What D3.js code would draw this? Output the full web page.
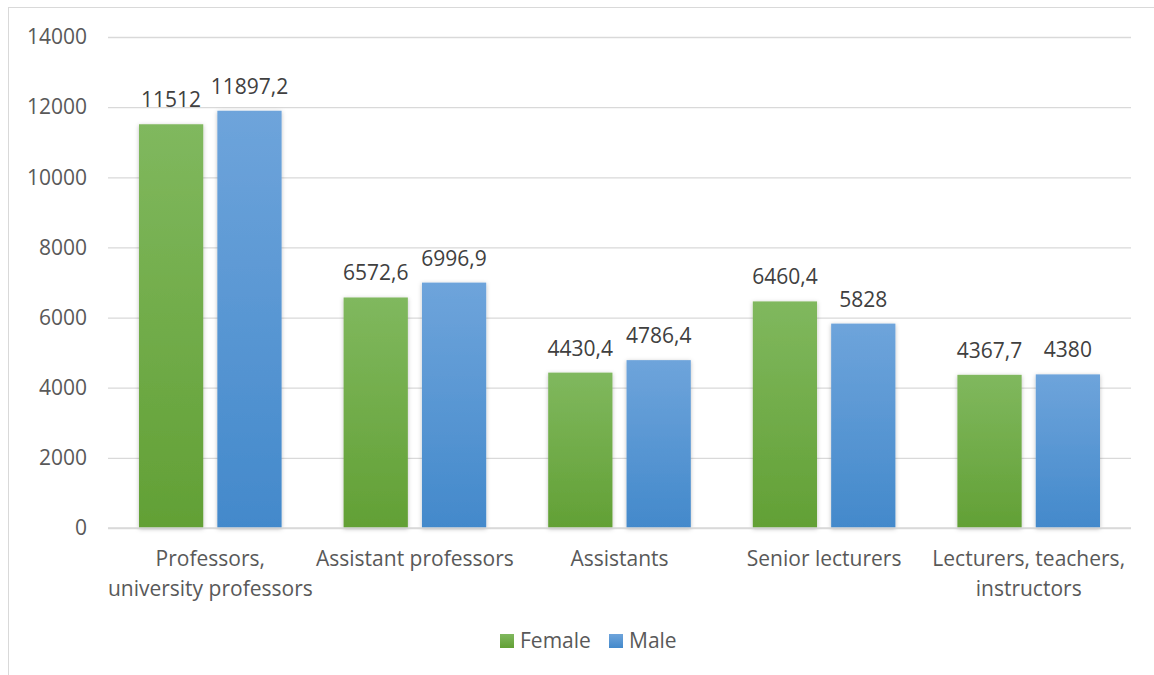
<!DOCTYPE html>
<html>
<head>
<meta charset="utf-8">
<script src="https://cdn.jsdelivr.net/npm/d3@7"></script>
<style>
  body { margin: 0; background: #fff; }
  text { font-family: "Open Sans", "Noto Sans", sans-serif; }
</style>
</head>
<body>
<div id="chart"></div>
<script>
// data
var categories = [
  ["Professors,", "university professors"],
  ["Assistant professors"],
  ["Assistants"],
  ["Senior lecturers"],
  ["Lecturers, teachers,", "instructors"]
];
var female = [11512, 6572.6, 4430.4, 6460.4, 4367.7];
var male = [11897.2, 6996.9, 4786.4, 5828, 4380];
var yTicks = [0, 2000, 4000, 6000, 8000, 10000, 12000, 14000];
var seriesNames = ["Female", "Male"];

var W = 1154, H = 675;
var margin = {top: 37, right: 23, bottom: 147, left: 108};
var width = W - margin.left - margin.right,
    height = H - margin.top - margin.bottom;
var fontSize = "21px";

var svg = d3.select("#chart").append("svg")
  .attr("width", W).attr("height", H);

// gradients + shadow
var defs = svg.append("defs");
var grads = [["gFem", "#80b85e", "#62a035"], ["gMale", "#6ea4db", "#4389cb"]];
grads.forEach(function(g) {
  var lg = defs.append("linearGradient").attr("id", g[0])
    .attr("x1", 0).attr("y1", 0).attr("x2", 0).attr("y2", 1);
  lg.append("stop").attr("offset", "0%").attr("stop-color", g[1]);
  lg.append("stop").attr("offset", "100%").attr("stop-color", g[2]);
});
var f = defs.append("filter").attr("id", "shadow")
  .attr("x", "-20%").attr("y", "-5%").attr("width", "140%").attr("height", "110%");
f.append("feDropShadow").attr("dx", 0).attr("dy", 1).attr("stdDeviation", 2)
  .attr("flood-color", "#000").attr("flood-opacity", 0.25);

// outer border
svg.append("rect")
  .attr("x", 8.5).attr("y", 7.5).attr("width", W + 10).attr("height", H + 10)
  .attr("fill", "none").attr("stroke", "#d9d9d9").attr("stroke-width", 1);

var g = svg.append("g")
  .attr("transform", "translate(" + margin.left + "," + margin.top + ")");

var x0 = d3.scaleBand().domain(d3.range(categories.length)).range([0, width]);
var x1 = d3.scaleBand().domain([0, 1]).range([31, x0.bandwidth() - 31]).paddingInner(0.18);
var y = d3.scaleLinear().domain([0, 14000]).range([height, 0]);

// gridlines
g.append("g")
  .call(d3.axisLeft(y).tickValues(yTicks).tickSize(-width).tickFormat(""))
  .call(function(a) {
    a.select(".domain").remove();
    a.selectAll("line").attr("stroke", "#d9d9d9").attr("stroke-width", 1.3);
  });

// y labels
g.append("g")
  .call(d3.axisLeft(y).tickValues(yTicks).tickSize(0).tickPadding(21).tickFormat(d3.format("d")))
  .call(function(a) {
    a.select(".domain").remove();
    a.selectAll("text").attr("fill", "#595959").style("font-size", fontSize);
  });

var data = categories.map(function(c, i) { return [female[i], male[i]]; });
var fills = ["url(#gFem)", "url(#gMale)"];
var fmt = function(v) { return String(v).replace(".", ","); };

var groups = g.selectAll(".grp").data(data).enter().append("g")
  .attr("transform", function(d, i) { return "translate(" + x0(i) + ",0)"; });

groups.selectAll("rect").data(function(d) { return d; }).enter().append("rect")
  .attr("x", function(d, j) { return x1(j); })
  .attr("y", function(d) { return y(d); })
  .attr("width", x1.bandwidth())
  .attr("height", function(d) { return height - y(d); })
  .attr("fill", function(d, j) { return fills[j]; })
  .attr("filter", "url(#shadow)");

groups.selectAll(".val").data(function(d) { return d; }).enter().append("text")
  .attr("x", function(d, j) { return x1(j) + x1.bandwidth() / 2; })
  .attr("y", function(d) { return y(d) - 17; })
  .attr("text-anchor", "middle")
  .attr("fill", "#404040")
  .style("font-size", fontSize)
  .text(fmt);

// baseline
g.append("line").attr("x1", 0).attr("x2", width).attr("y1", height).attr("y2", height)
  .attr("stroke", "#d9d9d9").attr("stroke-width", 1.3);

// x labels
var xl = g.append("g").selectAll("text").data(categories).enter().append("text")
  .attr("x", function(d, i) { return x0(i) + x0.bandwidth() / 2; })
  .attr("y", height + 38)
  .attr("text-anchor", "middle")
  .attr("fill", "#595959")
  .style("font-size", fontSize);
xl.selectAll("tspan").data(function(d) { return d; }).enter().append("tspan")
  .attr("x", function() { return d3.select(this.parentNode).attr("x"); })
  .attr("dy", function(d, k) { return k === 0 ? 0 : 30; })
  .text(function(d) { return d; });

// legend
var legend = svg.append("g").attr("transform", "translate(500,641)");
var legX = [0, 109];
seriesNames.forEach(function(n, i) {
  legend.append("rect").attr("x", legX[i]).attr("y", -7).attr("width", 14).attr("height", 14)
    .attr("fill", fills[i]);
  legend.append("text").attr("x", legX[i] + 20).attr("y", 7)
    .attr("fill", "#595959").style("font-size", fontSize).text(n);
});
</script>
</body>
</html>
